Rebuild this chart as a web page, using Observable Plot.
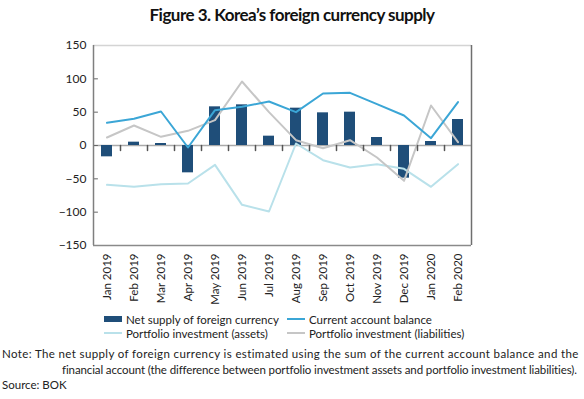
<!DOCTYPE html>
<html><head><meta charset="utf-8">
<script src="https://cdn.jsdelivr.net/npm/d3@7"></script>
<script src="https://cdn.jsdelivr.net/npm/@observablehq/plot@0.6"></script>
<style>
body{margin:0;background:#fff;font-family:Lato,"Open Sans",sans-serif;color:#222}
#wrap{position:relative;width:584px;height:399px;overflow:hidden}
#title{position:absolute;top:4px;left:0;width:584px;text-align:center}
#title span{font-weight:bold;font-size:17px;color:#111;white-space:nowrap;display:inline-block}
#chart{position:absolute;top:30px;left:0}
.leg{position:absolute;font-size:11.5px;display:flex;align-items:center;white-space:nowrap;height:14px}
.sw{display:inline-block;width:18px;margin-right:4px}
.nl{position:absolute;font-size:11.5px;white-space:nowrap;display:inline-block}
</style></head><body>
<div id="wrap">
<div id="title"><span id="tt">Figure 3. Korea’s foreign currency supply</span></div>
<div id="chart"></div>
<div class="leg" style="left:104px;top:312px"><span class="sw" style="height:6px;background:#1f4e79"></span><span id="l0"></span></div>
<div class="leg" style="left:287px;top:312px"><span class="sw" style="height:2px;background:#3ba6d6"></span><span id="l1"></span></div>
<div class="leg" style="left:104px;top:326px"><span class="sw" style="height:2px;background:#b9e1ea"></span><span id="l2"></span></div>
<div class="leg" style="left:287px;top:326px"><span class="sw" style="height:2px;background:#c6c6c6"></span><span id="l3"></span></div>
<span class="nl" id="n1" style="left:2px;top:347px">Note: The net supply of foreign currency is estimated using the sum of the current account balance and the</span>
<span class="nl" id="n2" style="left:62px;top:363px">financial account (the difference between portfolio investment assets and portfolio investment liabilities).</span>
<span class="nl" id="n3" style="left:2px;top:378px">Source: BOK</span>
</div>
<script>
const months = ["Jan 2019","Feb 2019","Mar 2019","Apr 2019","May 2019","Jun 2019","Jul 2019","Aug 2019","Sep 2019","Oct 2019","Nov 2019","Dec 2019","Jan 2020","Feb 2020"];
const netSupply = [-17,5,3,-41,58,61,14,56,49,50,12,-49,6,39];
const currentAccount = [34,40,51,-3,53,58,66,50,78,79,62,45,11,65];
const portfolioAssets = [-59,-62,-58,-57,-29,-89,-99,3,-22,-33,-28,-35,-62,-28];
const portfolioLiabilities = [12,30,13,22,38,96,50,8,-4,8,-18,-53,60,5];
const yTicks = [-150,-100,-50,0,50,100,150];
const seriesNames = ["Net supply of foreign currency","Current account balance","Portfolio investment (assets)","Portfolio investment (liabilities)"];
seriesNames.forEach((n,i)=>document.getElementById("l"+i).textContent=n);

// fit text widths to the reference layout via letter-spacing
function fit(id, target){
  const el = document.getElementById(id);
  const w = el.getBoundingClientRect().width;
  const n = el.textContent.length;
  el.style.letterSpacing = ((target - w) / n) + "px";
}
fit("tt", 285);
fit("n1", 577);
fit("n2", 514);

const rows = (vals) => months.map((m,i)=>({month:m, value:vals[i]}));
const tickShape = {draw(ctx, l){ctx.moveTo(0,0); ctx.lineTo(0,-l);}};

const chart = Plot.plot({
  width:584, height:280,
  marginTop:15, marginBottom:65, marginLeft:93, marginRight:113,
  x:{type:"band", domain:months, paddingInner:0.6, paddingOuter:0.3, label:null},
  y:{domain:[-150,150], label:null},
  style:{fontFamily:"Lato, 'Open Sans', sans-serif", fontSize:"11px", color:"#222", background:"#fff"},
  marks:[
    Plot.ruleY([0], {stroke:"#aaaaaa", strokeWidth:1.5}),
    Plot.barY(rows(netSupply), {x:"month", y:"value", fill:"#1f4e79"}),
    Plot.line(rows(portfolioAssets), {x:"month", y:"value", stroke:"#b9e1ea", strokeWidth:2}),
    Plot.line(rows(portfolioLiabilities), {x:"month", y:"value", stroke:"#c6c6c6", strokeWidth:2}),
    Plot.line(rows(currentAccount), {x:"month", y:"value", stroke:"#3ba6d6", strokeWidth:2}),
    Plot.vector(months.slice(1), {x:d=>d, y:()=>0, dx:-13.5, rotate:180, length:5, anchor:"start", shape:tickShape, stroke:"#555", strokeWidth:1.5}),
    Plot.vector(yTicks, {y:d=>d, frameAnchor:"left", rotate:90, length:4, anchor:"start", shape:tickShape, stroke:"#666", strokeWidth:1}),
    Plot.ruleY([yTicks[yTicks.length-1]], {stroke:"#d4d4d4", strokeWidth:1.5}),
    Plot.ruleX([months[0]], {dx:-13.5, stroke:"#7f7f7f", strokeWidth:1.5}),
    Plot.ruleX([months[months.length-1]], {dx:13.5, stroke:"#6f6f6f", strokeWidth:1.5}),
    Plot.ruleY([yTicks[0]], {stroke:"#8a8a8a", strokeWidth:1.5}),
    Plot.axisY({ticks:yTicks, tickSize:0, tickPadding:7, fontSize:12, label:null}),
    Plot.axisX({tickSize:0, tickRotate:-90, tickPadding:8, fontSize:11.5, label:null})
  ]
});
document.getElementById("chart").appendChild(chart);
</script>
</body></html>
